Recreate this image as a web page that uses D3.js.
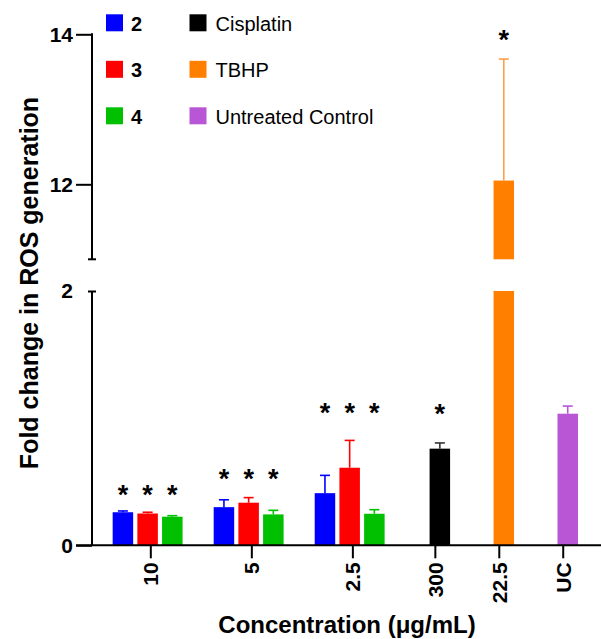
<!DOCTYPE html>
<html>
<meta charset="utf-8">
<style>
  body { margin: 0; background: #fff; }
  svg { width: 601px; height: 639px; display: block; }
  text { font-family: "Liberation Sans", Arial, sans-serif; }
  .axis path { display: none; }
  .axis line { stroke: #000; stroke-width: 2; }
  .axis text { font-size: 21px; font-weight: bold; fill: #000; }
</style>
<body>
  <svg></svg>
</body>

<script src="https://d3js.org/d3.v7.min.js"></script>

<script>

  // data
  var categories = ["10", "5", "2.5", "300", "22.5", "UC"];
  var compounds = ["2", "3", "4"];
  var mean2 = [0.26, 0.30, 0.41];
  var err2  = [0.01, 0.058, 0.14];
  var mean3 = [0.25, 0.335, 0.61];
  var err3  = [0.01, 0.04, 0.215];
  var mean4 = [0.225, 0.243, 0.248];
  var err4  = [0.008, 0.032, 0.032];
  var controls = ["Cisplatin", "TBHP", "Untreated Control"];
  var controlMean = [0.76, 12.05, 1.035];
  var controlErr  = [0.045, 1.62, 0.06];
  // height (data units) of the significance asterisks, per category
  var starLevel = [0.44, 0.57, 1.09, 1.08, 14.0, null];
  var lowTicks = [0, 2];
  var highTicks = [12, 14];

  var compoundColors = ["#0000FF", "#FF0000", "#00C000"];
  var controlColors = ["#000000", "#FF8000", "#B856D6"];
  var controlErrColors = ["#333333", "#FF9E4A", "#B856D6"];

  var svg = d3.select("svg");

  var axisX = 92, baseY = 545.3;

  // broken y axis: two linear scales
  var yLow = d3.scaleLinear().domain([0, 2]).range([baseY, 291]);
  var yHigh = d3.scaleLinear().domain([11, 14]).range([259.3, 34.3]);

  // x: grouped categories are wider than the single-bar ones
  var weights = categories.map(function(c, i){ return i < 3 ? 1.58 : 1; });
  var centers = [], acc = 0;
  weights.forEach(function(w){ centers.push(acc + w / 2); acc += w; });
  var xUnit = d3.scaleLinear().domain([0, acc]).range([99.8, 99.8 + acc * 63.94]);
  var x = d3.scaleOrdinal().domain(categories).range(centers.map(xUnit));

  var barW = 20.5, step = 24.7;

  // build bar records
  var bars = [];
  [mean2, mean3, mean4].forEach(function(means, s){
    var errs = [err2, err3, err4][s];
    means.forEach(function(m, i){
      bars.push({cat: categories[i], value: m, err: errs[i], color: compoundColors[s],
                 errColor: compoundColors[s], cx: x(categories[i]) + (s - 1) * step - 2.7});
    });
  });
  controlMean.forEach(function(m, i){
    var cat = categories[3 + i];
    bars.push({cat: cat, value: m, err: controlErr[i], color: controlColors[i],
               errColor: controlErrColors[i], cx: x(cat) + 5});
  });

  //BARS (lower part)
  svg.append("g").selectAll("rect.low").data(bars).enter()
    .append("rect")
    .attr("x", function(d){ return d.cx - barW / 2; })
    .attr("width", barW)
    .attr("y", function(d){ return yLow(Math.min(d.value, 2)); })
    .attr("height", function(d){ return baseY - yLow(Math.min(d.value, 2)); })
    .attr("fill", function(d){ return d.color; });

  //BARS (upper part of the broken bar)
  var tall = bars.filter(function(d){ return d.value > 11; });
  svg.append("g").selectAll("rect").data(tall).enter()
    .append("rect")
    .attr("x", function(d){ return d.cx - barW / 2; })
    .attr("width", barW)
    .attr("y", function(d){ return yHigh(d.value); })
    .attr("height", function(d){ return yHigh(11) - yHigh(d.value); })
    .attr("fill", function(d){ return d.color; });

  //ERROR BARS (upper only)
  var yOf = function(v){ return v > 11 ? yHigh(v) : yLow(v); };
  var eb = svg.append("g").selectAll("g").data(bars).enter().append("g")
    .attr("stroke", function(d){ return d.errColor; })
    .attr("stroke-width", 1.6);
  eb.append("line")
    .attr("x1", function(d){ return d.cx; }).attr("x2", function(d){ return d.cx; })
    .attr("y1", function(d){ return yOf(d.value); })
    .attr("y2", function(d){ return yOf(d.value + d.err); });
  eb.append("line")
    .attr("x1", function(d){ return d.cx - 5; }).attr("x2", function(d){ return d.cx + 5; })
    .attr("y1", function(d){ return yOf(d.value + d.err); })
    .attr("y2", function(d){ return yOf(d.value + d.err); });

  //ASTERISKS
  var stars = [];
  bars.forEach(function(d){
    var lvl = starLevel[categories.indexOf(d.cat)];
    if (lvl != null) stars.push({cx: d.cx, y: yOf(lvl)});
  });
  svg.append("g").selectAll("text").data(stars).enter()
    .append("text")
    .attr("x", function(d){ return d.cx; })
    .attr("y", function(d){ return d.y + 15; })
    .attr("text-anchor", "middle")
    .style("font-size", "27px")
    .style("font-weight", "bold")
    .text("*");

  //AXES
  var lowAxis = svg.append("g").attr("class", "axis")
    .attr("transform", "translate(" + axisX + ",0)")
    .call(d3.axisLeft(yLow).tickValues(lowTicks).tickFormat(d3.format("d")).tickSize(16).tickPadding(3));
  // the "2" tick is only a short cap
  lowAxis.selectAll(".tick").filter(function(d){ return d === 2; }).select("line")
    .attr("x1", -4).attr("x2", 4);

  var highAxis = svg.append("g").attr("class", "axis")
    .attr("transform", "translate(" + axisX + ",0)")
    .call(d3.axisLeft(yHigh).tickValues(highTicks).tickFormat(d3.format("d")).tickSize(16).tickPadding(3));

  var axisLines = svg.append("g").attr("stroke", "#000").attr("stroke-width", 2);
  axisLines.append("line").attr("x1", axisX).attr("x2", axisX)
    .attr("y1", yLow(2)).attr("y2", yLow(0));
  axisLines.append("line").attr("x1", axisX).attr("x2", axisX)
    .attr("y1", yHigh(14) - 1).attr("y2", yHigh(11));
  axisLines.append("line").attr("x1", axisX - 4).attr("x2", axisX + 4)
    .attr("y1", yHigh(11)).attr("y2", yHigh(11));
  axisLines.append("line").attr("x1", axisX - 16).attr("x2", 601)
    .attr("y1", baseY).attr("y2", baseY);

  var xAxis = svg.append("g").attr("class", "axis")
    .attr("transform", "translate(0," + baseY + ")")
    .call(d3.axisBottom(x).tickSize(13).tickPadding(4));
  xAxis.selectAll(".tick text")
    .attr("transform", "rotate(-90)")
    .attr("text-anchor", "end")
    .attr("x", -17)
    .attr("y", 0)
    .attr("dy", "0.35em");

  //TITLES
  svg.append("text")
    .attr("x", 347).attr("y", 633)
    .attr("text-anchor", "middle")
    .style("font-size", "24px").style("font-weight", "bold")
    .text("Concentration (\u03BCg/mL)");

  svg.append("text")
    .attr("transform", "translate(38,283) rotate(-90)")
    .attr("text-anchor", "middle")
    .style("font-size", "25px").style("font-weight", "bold")
    .text("Fold change in ROS generation");

  //LEGEND
  var legendItems = compounds.map(function(c, i){ return {label: c, color: compoundColors[i], col: 0, row: i}; })
    .concat(controls.map(function(c, i){ return {label: c, color: controlColors[i], col: 1, row: i}; }));
  var leg = svg.append("g").selectAll("g").data(legendItems).enter().append("g")
    .attr("transform", function(d){ return "translate(" + (d.col ? 189.5 : 106) + "," + (14.3 + d.row * 46.5) + ")"; });
  leg.append("rect").attr("width", 17).attr("height", 17)
    .attr("fill", function(d){ return d.color; });
  leg.append("text")
    .attr("x", function(d){ return d.col ? 26 : 25; })
    .attr("y", 16.3)
    .style("font-size", "20px")
    .style("font-weight", function(d){ return d.col ? "normal" : "bold"; })
    .text(function(d){ return d.label; });

</script>
</html>
